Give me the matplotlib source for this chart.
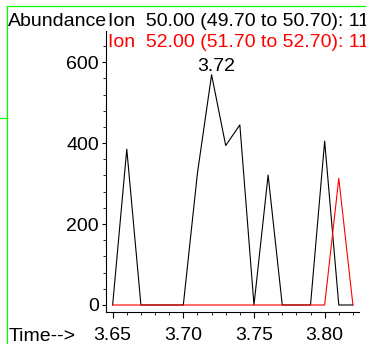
import matplotlib
matplotlib.use("Agg")
from matplotlib import pyplot as plt
from matplotlib.ticker import MultipleLocator
from matplotlib.lines import Line2D

plt.rcParams['font.family'] = ['Liberation Sans', 'DejaVu Sans']

# retention times (min) and abundances
times = [3.650, 3.660, 3.670, 3.680, 3.690, 3.700, 3.710, 3.720, 3.730,
         3.740, 3.750, 3.760, 3.770, 3.780, 3.790, 3.800, 3.810, 3.820]
ion50 = [0, 385, 0, 0, 0, 0, 326, 569, 394,
         445, 0, 321, 0, 0, 0, 405, 0, 0]
ion52 = [0, 0, 0, 0, 0, 0, 0, 0, 0,
         0, 0, 0, 0, 0, 0, 0, 313, 0]
peak_label = "3.72"
peak_time, peak_value = 3.72, 569

W, H = 366, 344
fig = plt.figure(figsize=(W / 100, H / 100), dpi=100)
ax = fig.add_axes([106 / W, (H - 312) / H, (359 - 106) / W, (312 - 31) / H])

ax.plot(times, ion50, c='black', linewidth=0.8)
ax.plot(times, ion52, c='red', linewidth=0.8)

ax.annotate(peak_label, (peak_time, peak_value), xytext=(5, 4),
            textcoords='offset pixels', ha='center', va='baseline', fontsize=14)

ax.set_xlim(3.6453, 3.8243)
ax.set_ylim(-17.3, 677)
ax.xaxis.set_major_locator(MultipleLocator(0.05))
ax.xaxis.set_minor_locator(MultipleLocator(0.01))
ax.yaxis.set_major_locator(MultipleLocator(200))
ax.yaxis.set_minor_locator(MultipleLocator(40))
ax.xaxis.set_major_formatter(plt.FormatStrFormatter('%.2f'))

for s in ['top', 'right']:
    ax.spines[s].set_visible(False)
for s in ['left', 'bottom']:
    ax.spines[s].set_linewidth(0.8)

ax.tick_params(axis='both', which='major', labelsize=14, width=0.8)
ax.tick_params(axis='y', which='major', length=3, pad=2)
ax.tick_params(axis='y', which='minor', length=2, width=0.6)
ax.tick_params(axis='x', which='major', length=4, pad=7)
ax.tick_params(axis='x', which='minor', length=2.5, width=0.6)

# header texts
fig.text(8 / W, 1 - 26 / H, "Abundance", fontsize=14, va='baseline', ha='left')
fig.text(108 / W, 1 - 26 / H, "Ion  50.00 (49.70 to 50.70): 11", fontsize=14,
         va='baseline', ha='left', color='black')
fig.text(108 / W, 1 - 47 / H, "Ion  52.00 (51.70 to 52.70): 11", fontsize=14,
         va='baseline', ha='left', color='red')
fig.text(9 / W, 3 / H, "Time-->", fontsize=14, va='baseline', ha='left')

# green frame lines
green = '#00ff00'
fig.add_artist(Line2D([7.5 / W, 7.5 / W], [0, 1 - 6 / H], color=green, lw=0.9))
fig.add_artist(Line2D([7.5 / W, 1], [1 - 6 / H, 1 - 6 / H], color=green, lw=0.9))
fig.add_artist(Line2D([0, 7.5 / W], [1 - 118 / H, 1 - 118 / H], color=green, lw=0.9))

fig.savefig('out.png', dpi=100)
